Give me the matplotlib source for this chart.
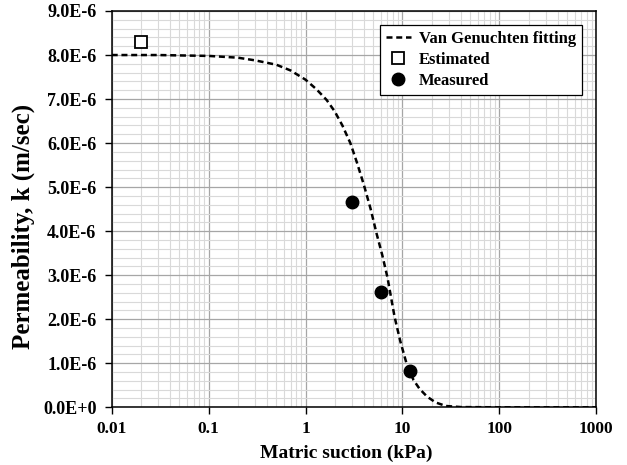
import matplotlib
matplotlib.use("Agg")
import matplotlib.pyplot as plt
from matplotlib.ticker import FixedLocator, FuncFormatter, LogLocator, NullFormatter

plt.rcParams['font.family'] = ['Liberation Serif', 'DejaVu Serif']
plt.rcParams['font.weight'] = 'bold'

# Van Genuchten fitting curve, suction in kPa, k in 1e-6 m/s
fit_suction = [0.01, 0.03, 0.1, 0.2, 0.3, 0.5, 0.7, 1.0, 1.3, 1.65, 2.0, 2.4, 2.9, 3.4,
               4.0, 4.7, 5.4, 6.2, 7.0, 8.3, 9.5, 11, 13, 15, 18, 22, 28, 40, 100, 1000]
fit_k = [8.00, 8.00, 7.98, 7.94, 7.88, 7.78, 7.65, 7.44, 7.22, 6.98, 6.72, 6.40, 6.00, 5.55,
         5.05, 4.50, 3.95, 3.45, 2.95, 2.05, 1.50, 1.00, 0.62, 0.42, 0.24, 0.11, 0.03, 0.005, 0.0, 0.0]

est_suction = [0.02]
est_k = [8.3]

meas_suction = [3, 6, 12]
meas_k = [4.67, 2.61, 0.82]

y_ticks = [0, 1, 2, 3, 4, 5, 6, 7, 8, 9]
x_ticks = [0.01, 0.1, 1, 10, 100, 1000]
x_labels = ['0.01', '0.1', '1', '10', '100', '1000']

fig = plt.figure(figsize=(6.27, 4.65), dpi=100)
ax = fig.add_axes([111.7/627, (465-407.3)/465, (596.3-111.7)/627, (407.3-11)/465])

ax.plot(fit_suction, [v*1e-6 for v in fit_k], color='black', lw=1.8,
        ls=(0, (2.4, 1.5)), label='Van Genuchten fitting', zorder=3)
ax.plot(est_suction, [v*1e-6 for v in est_k], ls='none', marker='s', ms=8,
        mfc='white', mec='black', mew=1.3, label='Estimated', zorder=4)
ax.plot(meas_suction, [v*1e-6 for v in meas_k], ls='none', marker='o', ms=9,
        mfc='black', mec='black', label='Measured', zorder=4)

ax.set_xscale('log')
ax.set_xlim(0.01, 1000)
ax.set_ylim(0, 9e-6)
ax.set_xticks(x_ticks)
ax.set_xticklabels(x_labels)
ax.xaxis.set_minor_locator(LogLocator(base=10, subs=range(2, 10)))
ax.xaxis.set_minor_formatter(NullFormatter())
ax.set_yticks([v*1e-6 for v in y_ticks])
ax.yaxis.set_minor_locator(FixedLocator([i*0.2e-6 for i in range(46)]))

def yfmt(v, pos):
    if abs(v) < 1e-12:
        return '0.0E+0'
    return '%.1fE-6' % (v/1e-6)
ax.yaxis.set_major_formatter(FuncFormatter(yfmt))

ax.grid(which='major', color='#a6a6a6', lw=0.9, zorder=0)
ax.grid(which='minor', color='#d9d9d9', lw=0.8, zorder=0)
ax.set_axisbelow(True)

ax.tick_params(which='major', direction='out', length=5, width=1)
ax.tick_params(axis='x', which='major', labelsize=12.5, pad=5)
ax.tick_params(axis='y', which='major', labelsize=13, pad=6)
ax.tick_params(which='minor', length=0)
for lab in ax.get_xticklabels() + ax.get_yticklabels():
    lab.set_fontweight('bold')
for sp in ax.spines.values():
    sp.set_color('black')
    sp.set_linewidth(1.1)

ax.set_xlabel('Matric suction (kPa)', fontsize=14, fontweight='bold')
ax.xaxis.set_label_coords((346.5-111.7)/484.6, (407.3-453)/396.3)
ax.xaxis.label.set_va('center')
ax.set_ylabel('Permeability, k (m/sec)', fontsize=18, fontweight='bold')
ax.yaxis.set_label_coords((23-111.7)/484.6, (407.3-226)/396.3)
ax.yaxis.label.set_va('center')

leg = ax.legend(loc='upper right', bbox_to_anchor=(0.9705, 0.9647), fancybox=False,
                edgecolor='black', framealpha=1, handlelength=1.5, handletextpad=0.5,
                borderpad=0.35, labelspacing=0.3, borderaxespad=0,
                prop={'weight': 'bold', 'size': 12})
leg.get_frame().set_linewidth(0.9)

fig.savefig('out.png', dpi=100)
